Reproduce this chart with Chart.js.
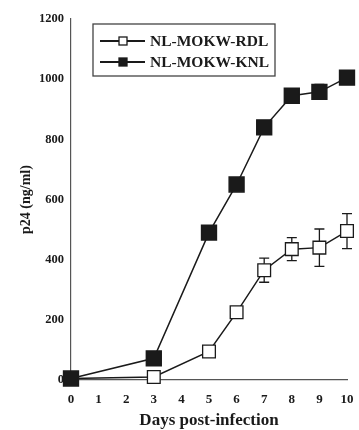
<!DOCTYPE html>
<html>
<head>
<meta charset="utf-8">
<script src="https://cdn.jsdelivr.net/npm/chart.js@4"></script>
<style>
  html, body { margin: 0; padding: 0; background: #fff; }
  #wrap { width: 359px; height: 430px; }
</style>
</head>
<body>
<div id="wrap"><canvas id="c" width="359" height="430"></canvas></div>
<script>
// values
const days = [0, 3, 5, 6, 7, 8, 9, 10];
const rdlValues = [5, 10, 95, 225, 365, 435, 440, 495];
const rdlErrors = [0, 0, 0, 0, 40, 38, 62, 58];
const knlValues = [5, 72, 490, 650, 840, 945, 958, 1005];
const knlErrors = [0, 0, 0, 0, 0, 0, 25, 0];
const seriesNames = ['NL-MOKW-RDL', 'NL-MOKW-KNL'];
const yTicks = [0, 200, 400, 600, 800, 1000, 1200];

const ink = '#1a1a1a';
const font = 'Liberation Serif';

function toPoints(vals) {
    return days.map((d, i) => ({ x: d, y: vals[i] }));
}

// error bars, drawn under the markers
const errorBars = {
    id: 'errorBars',
    beforeDatasetsDraw(chart) {
        const { ctx, scales } = chart;
        const errs = [rdlErrors, knlErrors];
        ctx.save();
        ctx.strokeStyle = ink;
        ctx.lineWidth = 1.3;
        chart.data.datasets.forEach((ds, k) => {
            ds.data.forEach((p, i) => {
                const e = errs[k][i];
                if (!e) return;
                const x = scales.x.getPixelForValue(p.x);
                const top = scales.y.getPixelForValue(p.y + e);
                const bot = scales.y.getPixelForValue(p.y - e);
                ctx.beginPath();
                ctx.moveTo(x, top); ctx.lineTo(x, bot);
                ctx.moveTo(x - 5, top); ctx.lineTo(x + 5, top);
                ctx.moveTo(x - 5, bot); ctx.lineTo(x + 5, bot);
                ctx.stroke();
            });
        });
        ctx.restore();
    }
};

// boxed legend sitting inside the plot
const boxLegend = {
    id: 'boxLegend',
    afterDraw(chart) {
        const ctx = chart.ctx;
        const bx = 93, by = 24, bw = 182, bh = 52;
        ctx.save();
        ctx.strokeStyle = '#444';
        ctx.lineWidth = 1.3;
        ctx.strokeRect(bx, by, bw, bh);
        const fills = ['#fff', ink];
        seriesNames.forEach((name, i) => {
            const y = by + 17 + i * 21;
            ctx.strokeStyle = ink;
            ctx.lineWidth = 1.8;
            ctx.beginPath();
            ctx.moveTo(bx + 7, y); ctx.lineTo(bx + 52, y);
            ctx.stroke();
            ctx.lineWidth = 1.3;
            ctx.fillStyle = fills[i];
            ctx.fillRect(bx + 26, y - 4, 8, 8);
            ctx.strokeRect(bx + 26, y - 4, 8, 8);
            ctx.fillStyle = ink;
            ctx.font = 'bold 15.5px "' + font + '"';
            ctx.textBaseline = 'middle';
            ctx.fillText(name, bx + 57, y + 1);
        });
        ctx.restore();
    }
};

new Chart(document.getElementById('c'), {
    type: 'line',
    data: {
        datasets: [
            {
                label: seriesNames[0],
                data: toPoints(rdlValues),
                borderColor: ink,
                borderWidth: 1.5,
                pointStyle: 'rect',
                pointRadius: 9,
                pointBackgroundColor: '#fff',
                pointBorderColor: ink,
                pointBorderWidth: 1.3,
                clip: false,
                order: 2
            },
            {
                label: seriesNames[1],
                data: toPoints(knlValues),
                borderColor: ink,
                borderWidth: 1.5,
                pointStyle: 'rect',
                pointRadius: 10.5,
                pointBackgroundColor: ink,
                pointBorderColor: ink,
                clip: false,
                order: 1
            }
        ]
    },
    options: {
        responsive: false,
        animation: false,
        layout: { padding: { top: 19, right: 10, left: 14, bottom: 0 } },
        plugins: { legend: { display: false }, tooltip: { enabled: false } },
        scales: {
            x: {
                type: 'linear',
                min: 0, max: 10,
                afterFit: s => { s.height = 50; s.paddingRight = 0; s.paddingLeft = 0; },
                grid: { display: false, drawTicks: true, tickLength: 4 },
                border: { color: '#555', width: 1.2 },
                ticks: {
                    stepSize: 1,
                    color: ink,
                    padding: 8,
                    font: { family: font, size: 13, weight: 'bold' }
                },
                title: {
                    display: true,
                    text: 'Days post-infection',
                    color: ink,
                    padding: { top: 3, bottom: -1 },
                    font: { family: font, size: 17, weight: 'bold' }
                }
            },
            y: {
                min: 0, max: 1200,
                afterFit: s => { s.width = 57; },
                afterBuildTicks: s => { s.ticks = yTicks.map(v => ({ value: v })); },
                grid: { display: false, tickLength: 3 },
                border: { color: '#555', width: 1.2 },
                ticks: {
                    color: ink,
                    padding: 4,
                    callback: v => String(v),
                    font: { family: font, size: 12.5, weight: 'bold' }
                },
                title: {
                    display: true,
                    text: 'p24 (ng/ml)',
                    color: ink,
                    padding: { bottom: 4 },
                    font: { family: font, size: 14, weight: 'bold' }
                }
            }
        }
    },
    plugins: [errorBars, boxLegend]
});
</script>
</body>
</html>
